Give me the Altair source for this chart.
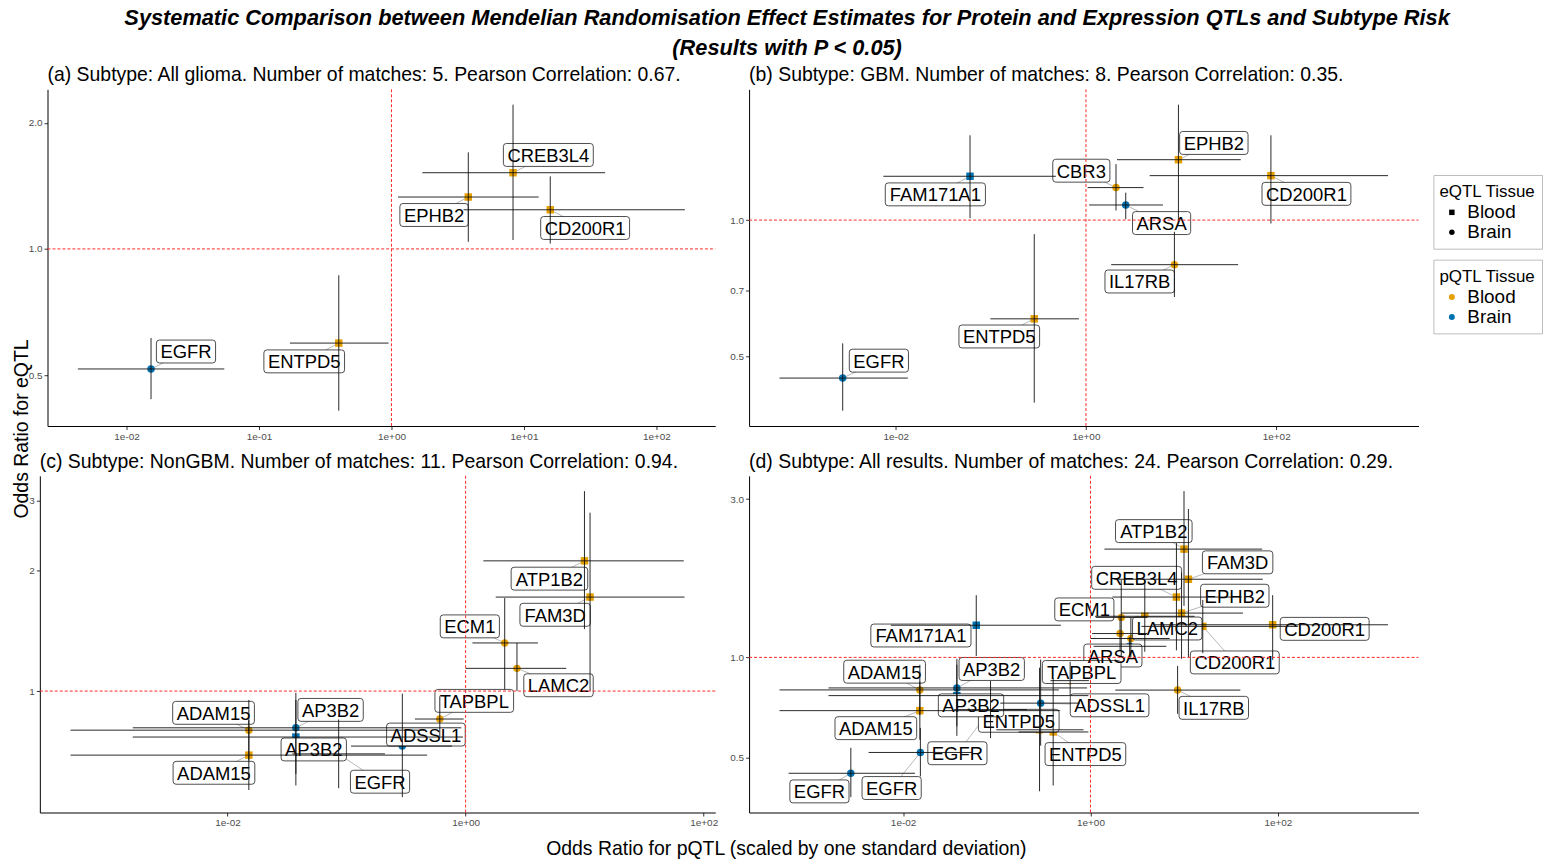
import altair as alt
import pandas as pd
import math

# ---------------- data ----------------
gene = ["EGFR", "ENTPD5", "EPHB2", "CREB3L4", "CD200R1",
        "FAM171A1", "CBR3", "ARSA", "EPHB2", "IL17RB", "CD200R1", "ENTPD5", "EGFR",
        "ATP1B2", "FAM3D", "ECM1", "LAMC2", "TAPBPL", "ADSSL1", "ADAM15", "ADAM15",
        "AP3B2", "AP3B2", "EGFR"]
subtype = ["All glioma"] * 5 + ["GBM"] * 8 + ["NonGBM"] * 11
pqtl_tissue = ["Brain", "Blood", "Blood", "Blood", "Blood",
               "Brain", "Blood", "Brain", "Blood", "Blood", "Blood", "Blood", "Brain",
               "Blood", "Blood", "Blood", "Blood", "Blood", "Brain", "Blood", "Blood",
               "Brain", "Brain", "Brain"]
eqtl_tissue = ["Brain", "Blood", "Blood", "Blood", "Blood",
               "Blood", "Brain", "Brain", "Blood", "Brain", "Blood", "Blood", "Brain",
               "Blood", "Blood", "Brain", "Brain", "Brain", "Brain", "Brain", "Blood",
               "Brain", "Blood", "Brain"]
or_pqtl = [0.0153, 0.40, 3.8, 8.27, 15.8,
           0.0604, 2.07, 2.62, 9.38, 8.51, 88, 0.286, 0.00277,
           9.96, 11.1, 2.13, 2.70, 0.607, 0.294, 0.0151, 0.0151, 0.0375, 0.0375, 0.0858]
or_pqtl_lo = [0.00429, 0.171, 1.12, 1.71, 3.5,
              0.0074, 1.04, 1.08, 2.12, 1.84, 4.68, 0.0989, 0.0006,
              1.41, 1.79, 1.14, 1.0, 0.375, 0.109, 0.00048, 0.00048, 0.0016, 0.0016, 0.035]
or_pqtl_hi = [0.0547, 0.95, 12.9, 41, 164,
              0.483, 4.03, 6.45, 42.4, 39.8, 1500, 0.843, 0.0134,
              68, 69, 4.05, 7.0, 0.962, 0.769, 0.46, 0.475, 0.92, 0.95, 0.21]
or_eqtl = [0.517, 0.596, 1.33, 1.52, 1.24,
           1.25, 1.18, 1.08, 1.36, 0.797, 1.254, 0.605, 0.4475,
           2.12, 1.72, 1.32, 1.14, 0.851, 0.728, 0.798, 0.691, 0.809, 0.767, 0.696]
or_eqtl_lo = [0.438, 0.411, 1.04, 1.05, 1.03,
              1.01, 1.05, 1.005, 0.99, 0.676, 0.983, 0.395, 0.379,
              1.43, 1.0, 1.01, 1.0, 0.77, 0.542, 0.67, 0.565, 0.62, 0.58, 0.571]
or_eqtl_hi = [0.613, 0.865, 1.70, 2.21, 1.49,
              1.54, 1.33, 1.15, 1.80, 0.942, 1.54, 0.931, 0.534,
              3.17, 2.80, 1.71, 1.32, 0.97, 0.985, 0.95, 0.845, 0.99, 0.95, 0.849]

# repelled label positions (data units) in the subtype panels (a)-(c)
label_x_own = [0.0281, 0.2194, 2.097, 15.28, 28.97,
               0.0261, 0.894, 6.24, 22.1, 3.67, 208, 0.1226, 0.00665,
               5.06, 5.65, 1.085, 6.03, 1.182, 0.464, 0.00763, 0.00769, 0.0734, 0.053, 0.191]
label_y_own = [0.569, 0.539, 1.205, 1.676, 1.122,
               1.140, 1.286, 0.985, 1.481, 0.7316, 1.143, 0.553, 0.489,
               1.913, 1.553, 1.4525, 1.034, 0.945, 0.778, 0.882, 0.624, 0.897, 0.714, 0.5927]
# repelled label positions in panel (d); None = label dropped
label_x_all = [0.00755, 0.883, None, 3.11, 34.7,
               0.0155, None, 1.735, 34.7, 20.7, 316, 0.1717, 0.00128,
               4.74, 37.2, 0.86, 6.6, 0.806, 1.6, 0.00635, 0.00512, 0.0883, 0.0531, 0.038]
label_y_all = [0.4039, 0.5112, None, 1.737, 0.9656,
               1.164, None, 1.013, 1.534, 0.7047, 1.219, 0.644, 0.3946,
               2.402, 1.934, 1.395, 1.222, 0.9035, 0.717, 0.9056, 0.612, 0.9227, 0.717, 0.5142]

panel_titles = {
    "a": "(a) Subtype: All glioma. Number of matches: 5. Pearson Correlation: 0.67.",
    "b": "(b) Subtype: GBM. Number of matches: 8. Pearson Correlation: 0.35.",
    "c": "(c) Subtype: NonGBM. Number of matches: 11. Pearson Correlation: 0.94.",
    "d": "(d) Subtype: All results. Number of matches: 24. Pearson Correlation: 0.29.",
}
x_ticks = {"a": [0.01, 0.1, 1, 10, 100], "b": [0.01, 1, 100], "c": [0.01, 1, 100], "d": [0.01, 1, 100]}
y_ticks = {"a": [0.5, 1.0, 2.0], "b": [0.5, 0.7, 1.0], "c": [1, 2, 3], "d": [0.5, 1.0, 3.0]}
y_formats = {"a": ".1f", "b": ".1f", "c": ".0f", "d": ".1f"}

title_line1 = "Systematic Comparison between Mendelian Randomisation Effect Estimates for Protein and Expression QTLs and Subtype Risk"
title_line2 = "(Results with P < 0.05)"
x_title = "Odds Ratio for pQTL (scaled by one standard deviation)"
y_title = "Odds Ratio for eQTL"

FONT = "Liberation Sans"
ORANGE, BLUE = "#E69F00", "#0072B2"
LABEL_FS = 18.5

ARIAL_W = {
    "A": .667, "B": .667, "C": .722, "D": .722, "E": .667, "F": .611, "G": .778, "H": .722,
    "I": .278, "J": .5, "K": .667, "L": .556, "M": .833, "N": .722, "O": .778, "P": .667,
    "Q": .778, "R": .722, "S": .667, "T": .611, "U": .722, "V": .667, "W": .944, "X": .667,
    "Y": .667, "Z": .611,
}


def box_path(label, fs=LABEL_FS, padx=4, h=23, r=3):
    w = sum(ARIAL_W.get(c, .556) for c in label) * fs + 2 * padx
    hw, hh = w / 2, h / 2
    return (f"M{-hw + r},{-hh}L{hw - r},{-hh}Q{hw},{-hh},{hw},{-hh + r}"
            f"L{hw},{hh - r}Q{hw},{hh},{hw - r},{hh}L{-hw + r},{hh}"
            f"Q{-hw},{hh},{-hw},{hh - r}L{-hw},{-hh + r}Q{-hw},{-hh},{-hw + r},{-hh}Z")


base = pd.DataFrame({
    "gene": gene, "subtype": subtype, "pqtl": pqtl_tissue, "eqtl": eqtl_tissue,
    "x": or_pqtl, "xlo": or_pqtl_lo, "xhi": or_pqtl_hi,
    "y": or_eqtl, "ylo": or_eqtl_lo, "yhi": or_eqtl_hi,
    "lx_own": label_x_own, "ly_own": label_y_own,
    "lx_all": label_x_all, "ly_all": label_y_all,
})
base["box"] = [box_path(g) for g in gene]


def expanded(lo, hi, mult=0.05):
    a, b = math.log(lo), math.log(hi)
    d = (b - a) * mult
    return [math.exp(a - d), math.exp(b + d)]


def panel(key, df, lx, ly, width, height, inset=0.0):
    # `inset`: left margin (px) between the cell origin and the plot area
    xdom = expanded(df["xlo"].min(), df["xhi"].max())
    ydom = expanded(df["ylo"].min(), df["yhi"].max())
    xs = alt.Scale(type="log", domain=xdom, nice=False, zero=False, range=[inset, width])
    ys = alt.Scale(type="log", domain=ydom, nice=False, zero=False)
    xa = alt.Axis(values=x_ticks[key], title=None,
                  labelExpr="'1e' + (datum.value < 1 ? '-0' : '+0') + abs(round(log(datum.value)/LN10))")
    ya = alt.Axis(values=y_ticks[key], title=None, format=y_formats[key], offset=-inset)

    def X(f):
        return alt.X(f"{f}:Q", scale=xs, axis=xa)

    def Y(f):
        return alt.Y(f"{f}:Q", scale=ys, axis=ya)

    d = df.copy()
    d["lx"] = d[lx]
    d["ly"] = d[ly]
    lab = d.dropna(subset=["lx", "ly"])

    seg = alt.Chart(lab).mark_rule(color="#9a9a9a", strokeWidth=0.7).encode(
        x=X("x"), y=Y("y"), x2="lx:Q", y2="ly:Q")
    pts = alt.Chart(d).mark_point(filled=True, opacity=1, size=56).encode(
        x=X("x"), y=Y("y"),
        color=alt.Color("pqtl:N", scale=alt.Scale(range=[ORANGE, BLUE]),
                        legend=alt.Legend(title="pQTL Tissue", orient="none", legendX=1399, legendY=171,
                                          symbolType="circle", symbolSize=36, symbolStrokeWidth=0)),
        shape=alt.Shape("eqtl:N", scale=alt.Scale(range=["square", "circle"]),
                        legend=alt.Legend(title="eQTL Tissue", orient="none", legendX=1399, legendY=86,
                                          symbolFillColor="black", symbolStrokeColor="black",
                                          symbolSize=30, symbolStrokeWidth=0)),
    )
    boxes = alt.Chart(lab).mark_point(filled=True, fill="white", stroke="#222222", strokeWidth=0.8,
                                      size=4, opacity=1, shape={"expr": "datum.box"}).encode(
        x=X("lx"), y=Y("ly"))
    texts = alt.Chart(lab).mark_text(font=FONT, fontSize=LABEL_FS, color="black", baseline="middle", dy=1).encode(
        x=X("lx"), y=Y("ly"), text="gene:N")
    vbar = alt.Chart(d).mark_rule(color="#111111", strokeWidth=0.9).encode(
        x=X("x"), y=Y("ylo"), y2="yhi:Q")
    hbar = alt.Chart(d).mark_rule(color="#111111", strokeWidth=0.9).encode(
        x=X("xlo"), x2="xhi:Q", y=Y("y"))
    one = pd.DataFrame({"v": [1.0], "x0": [xdom[0]], "x1": [xdom[1]]})
    hline = alt.Chart(one).mark_rule(color="#ff2a2a", strokeDash=[3, 2], strokeWidth=1).encode(
        y=Y("v"), x=X("x0"), x2="x1:Q")
    vline = alt.Chart(one).mark_rule(color="#ff2a2a", strokeDash=[3, 2], strokeWidth=1).encode(x=X("v"))

    return alt.layer(seg, pts, boxes, texts, vbar, hbar, hline, vline).properties(
        width=width, height=height,
        title=alt.TitleParams(panel_titles[key], anchor="start", frame="group", fontSize=19.5,
                              fontWeight="normal", font=FONT, color="black", offset=3, dx=inset),
    )


H = 338
pa = panel("a", base[base.subtype == "All glioma"], "lx_own", "ly_own", 678, H, inset=7.7)
pb = panel("b", base[base.subtype == "GBM"], "lx_own", "ly_own", 672, H)
pc = panel("c", base[base.subtype == "NonGBM"], "lx_own", "ly_own", 678, H)
pd_ = panel("d", base, "lx_all", "ly_all", 672, H)

grid = alt.concat(pa, pb, pc, pd_, columns=2, align="none",
                  spacing={"row": 10, "column": 11}).properties(
    title=alt.TitleParams(x_title, orient="bottom", fontSize=19.5, fontWeight="normal", font=FONT,
                          color="black", offset=12, anchor="middle", dx=63))
lvl2 = alt.hconcat(grid).properties(
    title=alt.TitleParams(y_title, orient="left", fontSize=19.5, fontWeight="normal", font=FONT,
                          color="black", offset=-4, anchor="middle", dx=33))
chart = alt.vconcat(lvl2).properties(
    title=alt.TitleParams(title_line1, subtitle=title_line2, fontSize=21.85, fontStyle="italic",
                          fontWeight="bold", font=FONT, color="black",
                          subtitleFontSize=21.85, subtitleFontStyle="italic", subtitleFontWeight="bold",
                          subtitleFont=FONT, subtitleColor="black", subtitlePadding=8,
                          anchor="middle", offset=6, dx=10),
    padding={"left": 11, "top": 6, "right": 0, "bottom": 0},
).configure(font=FONT).configure_view(stroke=None).configure_axis(
    grid=False, domainColor="black", domainWidth=1, tickColor="#333333", tickSize=3.5,
    labelFontSize=10, labelColor="#4d4d4d", labelPadding=2, labelFont=FONT,
).configure_legend(
    titleFontSize=17, titleFontWeight="normal", titleColor="black", titleFont=FONT,
    titleBaseline="line-top", titleLineHeight=22,
    labelFontSize=19, labelColor="black", labelFont=FONT, strokeColor="#bdbdbd", fillColor="white",
    padding=6, rowPadding=-3.5, titlePadding=5, cornerRadius=0, symbolOffset=3, labelOffset=6,
)

chart.save("out.html", embed_options={"renderer": "svg", "actions": False})
